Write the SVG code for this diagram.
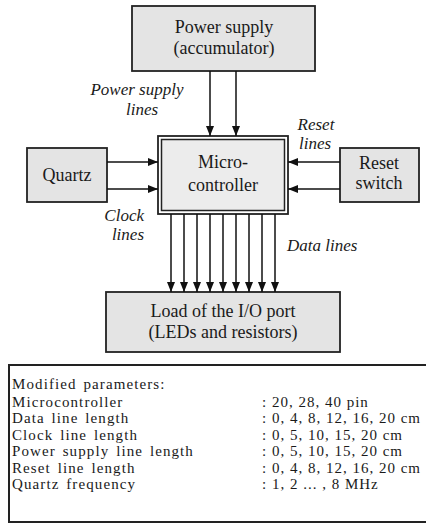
<svg xmlns="http://www.w3.org/2000/svg" width="426" height="524" viewBox="0 0 426 524">
<style>
.box{fill:#e4e4e4;stroke:#222;stroke-width:1.8}
.t{font-family:"Liberation Serif","Times New Roman","DejaVu Serif",serif;font-size:18px;fill:#1a1a1a;text-anchor:middle}
.i{font-family:"Liberation Serif","Times New Roman","DejaVu Serif",serif;font-size:17px;font-style:italic;fill:#1a1a1a}
.p{font-family:"Liberation Serif","Times New Roman","DejaVu Serif",serif;font-size:15px;fill:#1a1a1a;letter-spacing:1.1px;word-spacing:2px}
.v{letter-spacing:1px;word-spacing:0}
.c line{stroke:#111;stroke-width:1.5;marker-end:url(#ah)}
</style>
<defs>
<marker id="ah" markerWidth="10" markerHeight="8" refX="10" refY="4" orient="auto" markerUnits="userSpaceOnUse">
<path d="M0,0 L10,4 L0,8 Z" fill="#111"/>
</marker>
</defs>
<rect width="426" height="524" fill="#fff"/>
<g id="power">
<rect class="box" x="132" y="6" width="183" height="65"/>
<text class="t" x="224" y="33">Power supply</text>
<text class="t" x="224" y="54">(accumulator)</text>
</g>
<g id="mcu">
<rect x="158" y="136" width="130" height="78" fill="#fff" stroke="#222" stroke-width="1.8"/>
<rect x="161.5" y="139.5" width="123" height="71" fill="#ececec" stroke="#222" stroke-width="1.5"/>
<text class="t" x="223" y="168">Micro-</text>
<text class="t" x="223" y="191">controller</text>
</g>
<g id="quartz">
<rect class="box" x="27" y="148" width="80" height="54"/>
<text class="t" x="67" y="181">Quartz</text>
</g>
<g id="reset">
<rect class="box" x="340" y="148" width="79" height="54"/>
<text class="t" x="379" y="169">Reset</text>
<text class="t" x="379" y="189">switch</text>
</g>
<g id="load">
<rect class="box" x="106" y="292" width="234" height="60"/>
<text class="t" x="223" y="317">Load of the I/O port</text>
<text class="t" x="223" y="338">(LEDs and resistors)</text>
</g>
<g class="c" id="connectors">
<line x1="210" y1="71" x2="210" y2="136"/>
<line x1="236" y1="71" x2="236" y2="136"/>
<line x1="107" y1="162" x2="158" y2="162"/>
<line x1="107" y1="189" x2="158" y2="189"/>
<line x1="340" y1="162" x2="288" y2="162"/>
<line x1="340" y1="189" x2="288" y2="189"/>
<line x1="171" y1="214" x2="171" y2="292"/>
<line x1="184" y1="214" x2="184" y2="292"/>
<line x1="197" y1="214" x2="197" y2="292"/>
<line x1="210" y1="214" x2="210" y2="292"/>
<line x1="223" y1="214" x2="223" y2="292"/>
<line x1="236" y1="214" x2="236" y2="292"/>
<line x1="249" y1="214" x2="249" y2="292"/>
<line x1="262" y1="214" x2="262" y2="292"/>
<line x1="275" y1="214" x2="275" y2="292"/>
</g>
<g id="labels">
<text class="i" x="137" y="95" text-anchor="middle">Power supply</text>
<text class="i" x="142" y="115" text-anchor="middle">lines</text>
<text class="i" x="316" y="130" text-anchor="middle">Reset</text>
<text class="i" x="315" y="149" text-anchor="middle">lines</text>
<text class="i" x="144" y="221" text-anchor="end">Clock</text>
<text class="i" x="144" y="240" text-anchor="end">lines</text>
<text class="i" x="287" y="251">Data lines</text>
</g>
<g id="params">
<rect x="9" y="365" width="430" height="157" fill="#fff" stroke="#222" stroke-width="2"/>
<text class="p" x="12" y="389">Modified parameters:</text>
<text class="p" x="12" y="406.5">Microcontroller</text>
<text class="p" x="12" y="423">Data line length</text>
<text class="p" x="12" y="439.5">Clock line length</text>
<text class="p" x="12" y="456">Power supply line length</text>
<text class="p" x="12" y="472.5">Reset line length</text>
<text class="p" x="12" y="489">Quartz frequency</text>
<text class="p v" x="262" y="406.5">: 20, 28, 40 pin</text>
<text class="p v" x="262" y="423">: 0, 4, 8, 12, 16, 20 cm</text>
<text class="p v" x="262" y="439.5">: 0, 5, 10, 15, 20 cm</text>
<text class="p v" x="262" y="456">: 0, 5, 10, 15, 20 cm</text>
<text class="p v" x="262" y="472.5">: 0, 4, 8, 12, 16, 20 cm</text>
<text class="p v" x="262" y="489">: 1, 2 ... , 8 MHz</text>
</g>
</svg>
